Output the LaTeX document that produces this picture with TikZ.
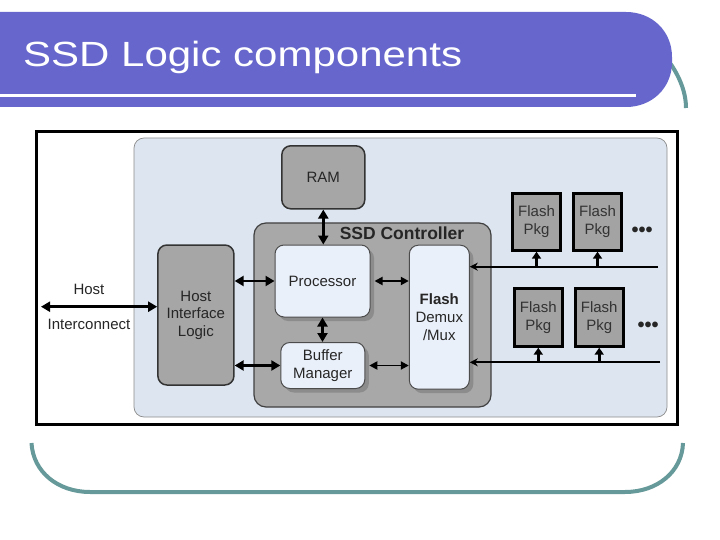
\documentclass[tikz,border=0pt]{standalone}
\usepackage{fontspec}
\setmainfont{Liberation Sans}
\usetikzlibrary{arrows.meta,shadows}
\definecolor{titlebar}{RGB}{102,102,204}
\definecolor{decoteal}{RGB}{102,153,153}
\definecolor{bluebg}{RGB}{221,229,240}
\definecolor{boxgray}{RGB}{166,166,166}
\definecolor{ctrlgray}{RGB}{168,168,168}
\definecolor{lightfill}{RGB}{234,240,250}
\definecolor{pkggray}{RGB}{163,163,163}
\begin{document}
\begin{tikzpicture}[x=1pt,y=-1pt,
  txt/.style={font=\fontsize{15}{17.6}\selectfont, text=black!85, align=center, inner sep=0pt},
  graybox/.style={txt, draw=black!80, line width=1.5pt, fill=boxgray, rounded corners=9pt},
  ctrlbox/.style={draw=black!75, line width=1.2pt, fill=ctrlgray, rounded corners=12pt, inner sep=0pt},
  lightbox/.style={txt, draw=black!70, line width=1pt, fill=lightfill, rounded corners=9pt,
    drop shadow={shadow xshift=4pt, shadow yshift=-4pt, fill=black!45, opacity=1}},
  pkgbox/.style={txt, draw=black, line width=3pt, fill=pkggray, text=black!80},
  region/.style={draw=black!45, line width=0.7pt, fill=bluebg, rounded corners=10pt, inner sep=0pt},
  dbl/.style={{Triangle[length=9pt,width=10pt]}-{Triangle[length=9pt,width=10pt]}, line width=2.6pt},
  thindbl/.style={{Triangle[length=8pt,width=8pt]}-{Triangle[length=8pt,width=8pt]}, line width=1.9pt},
  busline/.style={-{Stealth[length=8pt,width=8pt]}, line width=2pt},
  uparrow/.style={-{Triangle[length=7pt,width=9pt]}, line width=2.6pt},
  dots/.style={font=\fontsize{20}{20}\selectfont\bfseries, inner sep=0pt, text=black!85}
]
\useasboundingbox (0,0) rectangle (720,540);

% decorative slide frame
\draw[decoteal, line width=4pt] (655,45) .. controls (672,62) and (686,85) .. (686,108);
\draw[decoteal, line width=4pt] (31.5,443) .. controls (33,472) and (58,492) .. (90,492) -- (625,492) .. controls (657,492) and (682,472) .. (683,443);

% title bar
\fill[titlebar] (0,12) -- (626,12) .. controls (652,12) and (672,31) .. (672,57) -- (672,62) .. controls (672,88) and (652,107) .. (626,107) -- (0,107) -- cycle;
\fill[white] (0,94) rectangle (636,97.5);
\node[anchor=base west, text=white, inner sep=0pt] (title) at (23,67)
  {\scalebox{1.2}[1]{\fontsize{35}{40}\selectfont SSD Logic components}};

% frame
\draw[line width=3pt] (36,131.5) rectangle (677,424.5);

% board region
\node[region, minimum width=533pt, minimum height=279pt] (board) at (400.5,277.5) {};

% controller
\node[ctrlbox, minimum width=237pt, minimum height=184pt] (ctrl) at (372.5,315) {};
\node[font=\fontsize{17.5}{20}\selectfont\bfseries, text=black!85, inner sep=0pt] (ctrllabel) at (402,233) {SSD Controller};

% boxes
\node[graybox, minimum width=83pt, minimum height=63pt] (ram) at (323.3,177.3) {RAM};
\node[graybox, minimum width=76pt, minimum height=140pt] (hil) at (195.9,315) {Host\\Interface\\Logic};
\node[lightbox, minimum width=95pt, minimum height=72pt] (proc) at (322.5,281) {Processor};
\node[lightbox, minimum width=84pt, minimum height=46pt] (buf) at (322.8,365.5) {Buffer\\Manager};
\node[lightbox, minimum width=60pt, minimum height=144pt] (flash) at (439.3,317.2) {\textbf{Flash}\\Demux\\/Mux};

% flash packages
\node[pkgbox, minimum width=48.6pt, minimum height=57pt] (pkg1) at (536.5,221.7) {Flash\\Pkg};
\node[pkgbox, minimum width=48.6pt, minimum height=57pt] (pkg2) at (597.5,221.7) {Flash\\Pkg};
\node[pkgbox, minimum width=48.3pt, minimum height=57.4pt] (pkg3) at (538.3,317.5) {Flash\\Pkg};
\node[pkgbox, minimum width=48.3pt, minimum height=57.4pt] (pkg4) at (599.2,317.5) {Flash\\Pkg};
\node[dots] (dots1) at (642,232) {•••};
\node[dots] (dots2) at (648,326.5) {•••};

% host labels
\node[txt] (hostlbl) at (89,289) {Host};
\node[txt] (interlbl) at (89,324) {Interconnect};
\coordinate (hostL) at (41,306.7);
\coordinate (busTop) at (658,266.7);
\coordinate (busBot) at (660,362.3);

% connectors
\draw[dbl] (hostL) -- (hostL -| hil.west);
\draw[dbl] (hil.east |- proc.west) -- (proc.west);
\draw[dbl] (hil.east |- buf.west) -- (buf.west);
\draw[dbl] (ram.south) -- (ram.south |- proc.north);
\draw[dbl] (proc.south) -- (proc.south |- buf.north);
\draw[thindbl, shorten <=4pt] (proc.east) -- (proc.east -| flash.west);
\draw[thindbl, shorten <=4pt] (buf.east) -- (buf.east -| flash.west);
\draw[busline] (busTop) -- (busTop -| flash.east);
\draw[busline] (busBot) -- (busBot -| flash.east);
\draw[uparrow] (pkg1.south |- busTop) -- (pkg1.south);
\draw[uparrow] (pkg2.south |- busTop) -- (pkg2.south);
\draw[uparrow] (pkg3.south |- busBot) -- (pkg3.south);
\draw[uparrow] (pkg4.south |- busBot) -- (pkg4.south);
\end{tikzpicture}
\end{document}
